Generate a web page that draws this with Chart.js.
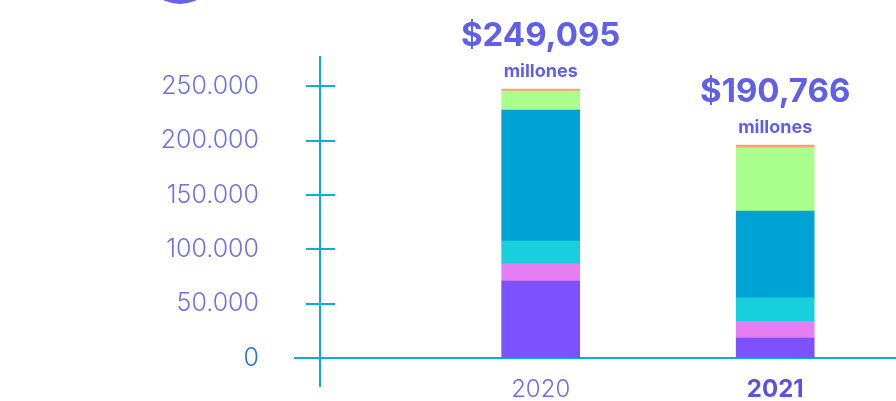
<!DOCTYPE html>
<html>
<head>
<meta charset="utf-8">
<script src="https://cdn.jsdelivr.net/npm/chart.js@4/dist/chart.umd.min.js"></script>
<style>
  html, body { margin: 0; padding: 0; background: #fff; overflow: hidden; }
  #wrap { position: relative; width: 896px; height: 401px; }
</style>
</head>
<body>
<div id="wrap"><canvas id="chart"></canvas></div>
<script>
const categories = ['2020', '2021'];
const totals = ['$249,095', '$190,766'];
const totalUnit = 'millones';
const serieA = [70700, 18400];   // morado
const serieB = [15900, 15400];   // rosa
const serieC = [20900, 21500];   // turquesa
const serieD = [120700, 79800];  // azul
const serieE = [17500, 58400];   // verde
const serieF = [1800, 2400];     // salmón
const yTicks = [0, 50000, 100000, 150000, 200000, 250000];

const font = 'Inter';
const axisColor = '#0aaed8';
const labelColor = '#5f5fe8';

const fmt = v => String(v).replace(/\B(?=(\d{3})+(?!\d))/g, '.');

const extras = {
  id: 'extras',
  afterDatasetsDraw(chart) {
    const { ctx, chartArea, scales: { y } } = chart;
    const ax = chartArea.left;
    ctx.save();
    // decorative circle cut at the top
    ctx.fillStyle = '#6464ea';
    ctx.beginPath(); ctx.arc(180, -34, 38, 0, Math.PI * 2); ctx.fill();
    ctx.strokeStyle = axisColor; ctx.lineWidth = 2;
    // y axis runs on below the zero line
    ctx.beginPath(); ctx.moveTo(ax, chartArea.bottom); ctx.lineTo(ax, chartArea.bottom + 29); ctx.stroke();
    // crossing tick marks
    yTicks.forEach(v => {
      const py = Math.round(y.getPixelForValue(v));
      ctx.beginPath();
      ctx.moveTo(ax - (v === 0 ? 26 : 14), py);
      ctx.lineTo(ax + 15, py);
      ctx.stroke();
    });
    // totals above the bars
    const top = chart.getDatasetMeta(chart.data.datasets.length - 1);
    ctx.fillStyle = labelColor;
    ctx.textAlign = 'center';
    ctx.textBaseline = 'alphabetic';
    top.data.forEach((bar, i) => {
      ctx.font = `bold 33px ${font}`;
      ctx.fillText(totals[i], bar.x, bar.y - 43);
      ctx.font = `bold 18px ${font}`;
      ctx.fillText(totalUnit, bar.x, bar.y - 12);
    });
    ctx.restore();
  }
};

new Chart(document.getElementById('chart'), {
  type: 'bar',
  data: {
    labels: categories,
    datasets: [
      { label: 'Serie A', data: serieA, backgroundColor: '#7b52fe' },
      { label: 'Serie B', data: serieB, backgroundColor: '#e47ef2' },
      { label: 'Serie C', data: serieC, backgroundColor: '#18cfdc' },
      { label: 'Serie D', data: serieD, backgroundColor: '#00a4d4' },
      { label: 'Serie E', data: serieE, backgroundColor: '#aafe8c' },
      { label: 'Serie F', data: serieF, backgroundColor: '#ffa07a' }
    ]
  },
  options: {
    responsive: true,
    maintainAspectRatio: false,
    animation: false,
    barThickness: 78,
    layout: { padding: { top: 57, bottom: 0, left: 0, right: 0 } },
    plugins: { legend: { display: false }, tooltip: { enabled: false } },
    scales: {
      x: {
        type: 'linear',
        stacked: true,
        offset: false,
        min: 2019.059,
        max: 2021.515,
        afterBuildTicks: s => { s.ticks = categories.map(c => ({ value: +c })); },
        afterFit: s => { s.height = 43; s.paddingLeft = 0; s.paddingRight = 0; },
        grid: { display: false, drawTicks: false },
        border: { color: axisColor, width: 2 },
        ticks: {
          padding: 17,
          maxRotation: 0,
          autoSkip: false,
          color: c => c.tick && c.tick.value === 2021 ? '#5a52e0' : '#6c6cea',
          font: c => ({ family: font, size: 24, weight: c.tick && c.tick.value === 2021 ? 'bold' : '300' }),
          callback: v => String(v)
        }
      },
      y: {
        stacked: true,
        min: 0,
        max: 277000,
        afterBuildTicks: s => { s.ticks = yTicks.map(v => ({ value: v })); },
        afterFit: s => { s.width = 320; s.paddingTop = 0; s.paddingBottom = 0; },
        grid: { display: false, drawTicks: false },
        border: { color: axisColor, width: 2 },
        ticks: {
          padding: 61,
          color: c => c.tick && c.tick.value === 0 ? '#2a6ff0' : '#7070ec',
          font: { family: font, size: 25, weight: '300' },
          callback: v => fmt(v)
        }
      }
    }
  },
  plugins: [extras]
});
</script>
</body>
</html>
